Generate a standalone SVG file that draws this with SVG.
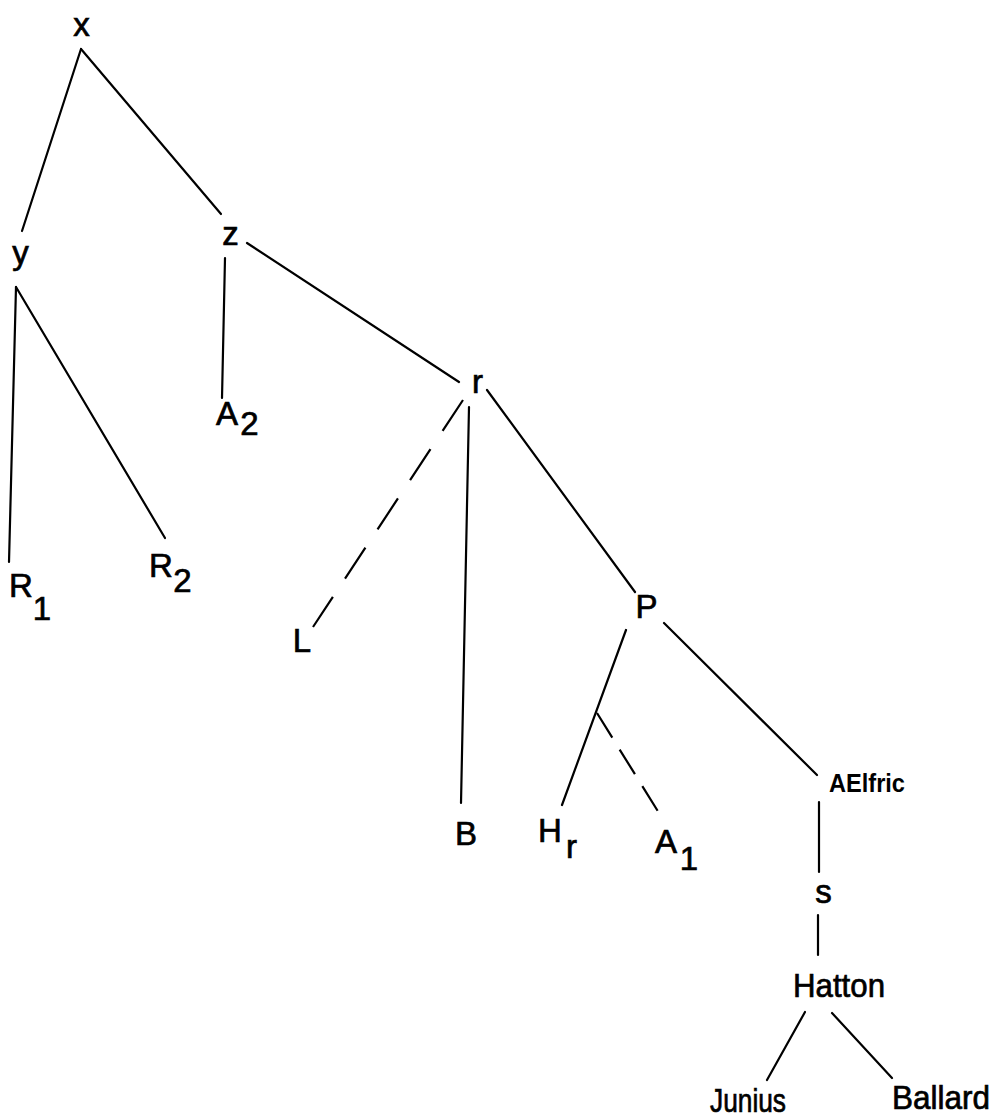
<svg xmlns="http://www.w3.org/2000/svg" width="994" height="1117" viewBox="0 0 994 1117">
<style>
  .lbl { font-family: "Liberation Sans", Arial, sans-serif; font-size: 33px; fill: #000; stroke: #000; stroke-width: 0.7; text-anchor: middle; }
  .sm { font-family: "Liberation Sans", Arial, sans-serif; font-size: 25px; font-weight: bold; fill: #000; }
  .edge { stroke: #000; stroke-width: 2.2; fill: none; stroke-linecap: round; }
  .dash1 { stroke-dasharray: 37 22; stroke-linecap: butt; }
  .dash2 { stroke-dasharray: 29 14; stroke-linecap: butt; }
</style>
<rect width="994" height="1117" fill="#fff"/>
<g id="connectors">
  <line class="edge" x1="81" y1="49" x2="22" y2="231"/>
  <line class="edge" x1="81" y1="49" x2="221" y2="214"/>
  <line class="edge" x1="225" y1="258" x2="222" y2="398"/>
  <line class="edge" x1="247" y1="243" x2="459" y2="382"/>
  <line class="edge" x1="16" y1="287" x2="9" y2="562"/>
  <line class="edge" x1="16" y1="287" x2="165" y2="538"/>
  <line class="edge dash1" x1="463" y1="400" x2="313" y2="627"/>
  <line class="edge" x1="469" y1="407" x2="461" y2="803"/>
  <line class="edge" x1="487" y1="390" x2="635" y2="592"/>
  <line class="edge" x1="626" y1="630" x2="562" y2="805"/>
  <line class="edge dash2" x1="597" y1="713" x2="659" y2="813"/>
  <line class="edge" x1="664" y1="623" x2="817" y2="775"/>
  <line class="edge" x1="819" y1="802" x2="819" y2="872"/>
  <line class="edge" x1="818" y1="915" x2="818" y2="955"/>
  <line class="edge" x1="805" y1="1012" x2="767" y2="1080"/>
  <line class="edge" x1="832" y1="1013" x2="892" y2="1078"/>
</g>
<g id="node-x"><text class="lbl" x="81.5" y="36">x</text></g>
<g id="node-y"><text class="lbl" x="20.5" y="264">y</text></g>
<g id="node-z"><text class="lbl" x="230.5" y="245">z</text></g>
<g id="node-A2"><text class="lbl" x="227" y="425">A<tspan x="249.5" y="435">2</tspan></text></g>
<g id="node-r"><text class="lbl" x="477.5" y="393">r</text></g>
<g id="node-R1"><text class="lbl" x="21" y="597">R<tspan x="42" y="620">1</tspan></text></g>
<g id="node-R2"><text class="lbl" x="161" y="577">R<tspan x="182.5" y="592">2</tspan></text></g>
<g id="node-L"><text class="lbl" x="302" y="652">L</text></g>
<g id="node-P"><text class="lbl" x="646.5" y="618">P</text></g>
<g id="node-B"><text class="lbl" x="466" y="845">B</text></g>
<g id="node-Hr"><text class="lbl" x="550" y="842">H<tspan x="571.5" y="858">r</tspan></text></g>
<g id="node-A1"><text class="lbl" x="666" y="853">A<tspan x="689" y="870">1</tspan></text></g>
<g id="node-AElfric"><text class="sm" x="829" y="792" textLength="76" lengthAdjust="spacingAndGlyphs">AElfric</text></g>
<g id="node-s"><text class="lbl" x="823.5" y="903">s</text></g>
<g id="node-Hatton"><text class="lbl" x="839" y="997" textLength="92" lengthAdjust="spacingAndGlyphs">Hatton</text></g>
<g id="node-Junius"><text class="lbl" x="748" y="1112" textLength="76" lengthAdjust="spacingAndGlyphs">Junius</text></g>
<g id="node-Ballard"><text class="lbl" x="941" y="1109" textLength="98" lengthAdjust="spacingAndGlyphs">Ballard</text></g>
</svg>
